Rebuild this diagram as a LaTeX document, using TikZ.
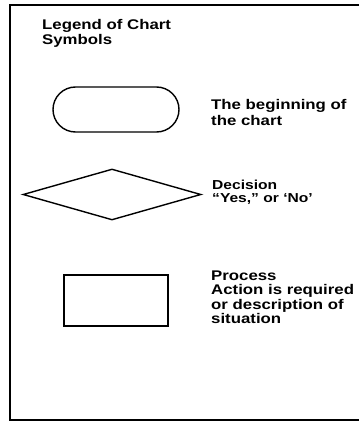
\documentclass[tikz,border=0pt]{standalone}
\usepackage{fontspec}
\newfontfamily\legendfont[FakeStretch=1.2]{Liberation Sans}
\usetikzlibrary{shapes.geometric, shapes.misc, positioning}

\tikzset{
  symbol/.style={draw, line width=1.4pt, inner sep=0pt},
  legendtext/.style={anchor=base west, align=left, inner sep=0pt,
    font=\legendfont\bfseries\fontsize{14}{15}\selectfont},
}

\begin{document}
\begin{tikzpicture}[x=1pt, y=-1pt]
    \useasboundingbox (0,0) rectangle (359,422);
    % Frame
    \draw[line width=1.2pt] (359,5) -- (10,5) -- (10,420) -- (359,420);

    % Title (anchored at the baseline of its last line)
    \node[legendtext] (title) at (42,45) {Legend of Chart\\Symbols};

    % Terminal
    \node[symbol, rounded rectangle, minimum width=126pt, minimum height=45pt] (start) at (116,109.5) {};
    \node[legendtext] (startlabel) at (211,125) {The beginning of\\the chart};

    % Decision
    \node[symbol, diamond, minimum width=178pt, minimum height=51pt] (decision) at (112,194.5) {};
    \node[legendtext, font=\legendfont\bfseries\fontsize{13}{13}\selectfont] (decisionlabel) at (212,202) {Decision\\“Yes,” or ‘No’};

    % Process
    \node[symbol, rectangle, minimum width=104pt, minimum height=51pt] (process) at (116,300.5) {};
    \node[legendtext, font=\legendfont\bfseries\fontsize{14}{14.5}\selectfont] (processlabel) at (211,323.5) {Process\\Action is required\\or description of\\situation};
\end{tikzpicture}
\end{document}
